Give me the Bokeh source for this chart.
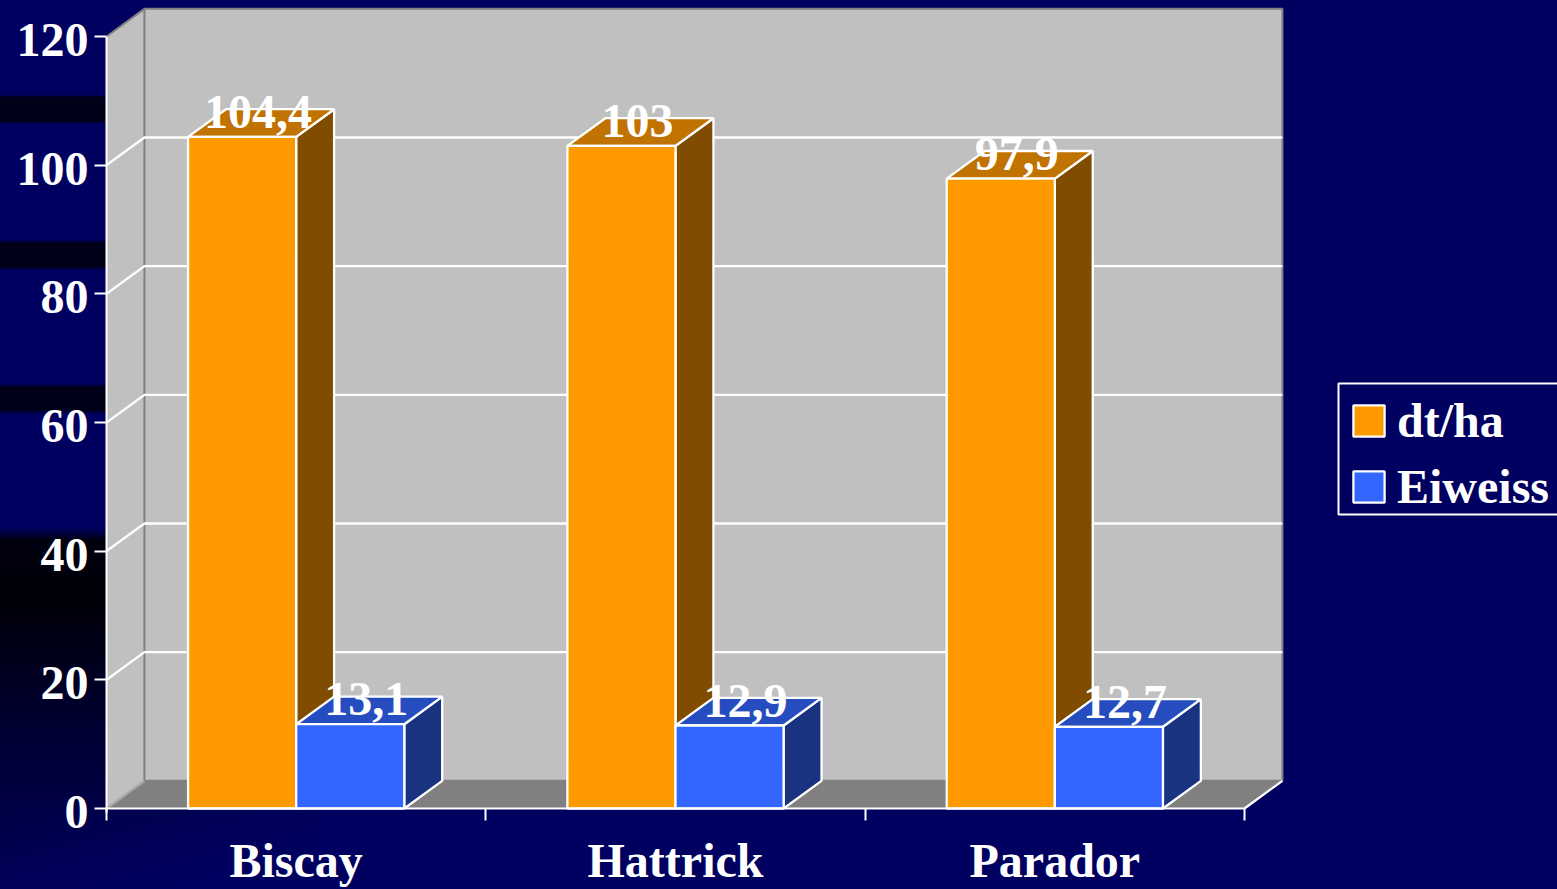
from bokeh.plotting import figure
from bokeh.embed import file_html
from bokeh.resources import INLINE
from bokeh.core.properties import value
from bokeh.models import FixedTicker, Legend, LegendItem, ColumnDataSource, Range1d

categories = ["Biscay", "Hattrick", "Parador"]
dt_ha = [104.4, 103, 97.9]
eiweiss = [13.1, 12.9, 12.7]
dt_labels = ["104,4", "103", "97,9"]
eiweiss_labels = ["13,1", "12,9", "12,7"]
y_ticks = [0, 20, 40, 60, 80, 100, 120]
grid_values = [20, 40, 60, 80, 100]

NAVY = "#000060"
FONT = "Liberation Serif"
DX, DY = 0.1, 4.3      # 3D depth in data units
BAR_W = 0.285
PX_X = 379.33          # pixels per category
PX_Y = 6.4333          # pixels per value unit
LABEL_SHIFT = 3.5 / PX_Y

W, H = 1557, 889
FRAME_W, FRAME_H = 1451, 812
y0 = -4 / PX_Y
p = figure(width=W, height=H, output_backend="svg", toolbar_location=None,
           x_range=Range1d(0, FRAME_W / PX_X), y_range=Range1d(y0, y0 + FRAME_H / PX_Y),
           frame_width=FRAME_W, frame_height=FRAME_H,
           min_border_left=106, min_border_bottom=77, min_border_top=0, min_border_right=0,
           outline_line_color=None, background_fill_alpha=0, border_fill_alpha=0,
           background_fill_color=NAVY, border_fill_color=NAVY)
p.grid.visible = False

n = len(categories)
LW = 2.3
# walls and floor
p.patch([0, DX, DX, 0], [0, DY, 120 + DY, 120], fill_color="#c0c0c0", line_color=None)
p.patch([DX, n + DX, n + DX, DX], [DY, DY, 120 + DY, 120 + DY], fill_color="#c0c0c0",
        line_color="#808080", line_width=2)
p.line([0, DX], [120, 120 + DY], line_color="#808080", line_width=2)
p.patch([0, DX, n + DX, n], [0, DY, DY, 0], fill_color="#808080", line_color=None)
p.line([n, n + DX], [0, DY], line_color="#ffffff", line_width=LW)
p.line([0, DX], [0, DY], line_color="#a8a8a8", line_width=LW)
# gridlines
p.multi_line([[0, DX, n + DX] for _ in grid_values],
             [[v, v + DY, v + DY] for v in grid_values], line_color="#ffffff", line_width=LW)

def bars(vals, lefts, front, side, top):
    rights = [l + BAR_W for l in lefts]
    p.patches([[r, r + DX, r + DX, r] for r in rights],
              [[0, DY, v + DY, v] for v in vals],
              fill_color=side, line_color="#ffffff", line_width=LW)
    p.patches([[l, r, r + DX, l + DX] for l, r in zip(lefts, rights)],
              [[v, v, v + DY, v + DY] for v in vals],
              fill_color=top, line_color="#ffffff", line_width=LW)
    src = ColumnDataSource(dict(x=[l + BAR_W / 2 for l in lefts], top=vals))
    return p.vbar(x="x", top="top", bottom=0, width=BAR_W, source=src,
                  fill_color=front, line_color="#ffffff", line_width=LW)

orange_left = [0.5 - BAR_W + i for i in range(n)]
blue_left = [0.5 + i for i in range(n)]
r1 = bars(dt_ha, orange_left, "#ff9900", "#804d00", "#c07300")
r2 = bars(eiweiss, blue_left, "#3366ff", "#1a3380", "#264dbf")

# x axis line sits at value 0, inside the frame
p.line([0, n], [0, 0], line_color="#ffffff", line_width=2)

def labels(lefts, vals, texts):
    src = ColumnDataSource(dict(x=[l + BAR_W / 2 for l in lefts], y=vals, t=texts))
    p.text(x="x", y="y", text="t", source=src, x_offset=16, y_offset=-25,
           text_align="center", text_baseline="alphabetic", text_color="#ffffff",
           text_font=value(FONT), text_font_style="bold", text_font_size="48px")

labels(orange_left, dt_ha, dt_labels)
labels(blue_left, eiweiss, eiweiss_labels)

# legend box (extends past the right page edge, as in the reference)
def px_x(px):
    return (px - 106) / PX_X
def px_y(py):
    return (808 - py) / PX_Y
p.quad(left=[px_x(1338)], right=[px_x(1600)], top=[px_y(383)], bottom=[px_y(514)],
       fill_color=NAVY, line_color="#ffffff", line_width=2)

# axes
ya = p.yaxis[0]
label_ticks = [round(v - LABEL_SHIFT, 4) for v in y_ticks]
ya.ticker = FixedTicker(ticks=label_ticks, minor_ticks=y_ticks)
ya.major_label_overrides = {t: str(v) for t, v in zip(label_ticks, y_ticks)}
ya.bounds = (y0, 120)
ya.major_label_text_font = FONT
ya.major_label_text_font_style = "bold"
ya.major_label_text_font_size = "48px"
ya.major_label_text_color = "#ffffff"
ya.major_tick_in = 0
ya.major_tick_out = 0
ya.major_tick_line_color = None
ya.minor_tick_in = 0
ya.minor_tick_out = 12
ya.minor_tick_line_color = "#ffffff"
ya.minor_tick_line_width = 2
ya.axis_line_color = "#ffffff"
ya.axis_line_width = 2
ya.major_label_standoff = 6

xa = p.xaxis[0]
xa.ticker = FixedTicker(ticks=[i + 0.5 for i in range(n)], minor_ticks=list(range(n + 1)))
xa.major_label_overrides = {i + 0.5: c for i, c in enumerate(categories)}
xa.bounds = (0, n)
xa.major_label_text_font = FONT
xa.major_label_text_font_style = "bold"
xa.major_label_text_font_size = "48px"
xa.major_label_text_color = "#ffffff"
xa.major_tick_line_color = None
xa.major_tick_in = 0
xa.major_tick_out = 0
xa.minor_tick_in = 4
xa.minor_tick_out = 8
xa.minor_tick_line_color = "#ffffff"
xa.minor_tick_line_width = 2
xa.axis_line_color = None
xa.major_label_standoff = 13

legend = Legend(items=[LegendItem(label="dt/ha", renderers=[r1]),
                       LegendItem(label="Eiweiss", renderers=[r2])],
                location=(1349 - 106, 812 - 514), orientation="vertical",
                background_fill_alpha=0, border_line_color=None,
                glyph_width=39, glyph_height=39, label_standoff=9,
                label_text_font=FONT, label_text_font_style="bold",
                label_text_font_size="48px", label_text_color="#ffffff",
                label_height=31, spacing=11, padding=0, margin=0)
p.add_layout(legend)

dark = "#000018"
column = (f"linear-gradient(to bottom, {NAVY} 0, {NAVY} 95px, {dark} 97px, {dark} 121px, {NAVY} 124px, "
          f"{NAVY} 240px, {dark} 243px, {dark} 267px, {NAVY} 270px, "
          f"{NAVY} 384px, {dark} 387px, {dark} 410px, {NAVY} 414px, "
          f"{NAVY} 528px, #000010 540px, #000008 600px, #000030 720px, #000044 808px)")
corner = "linear-gradient(to bottom right, #000044 0, #000058 45%, #000060 75%)"
css = (f"<style>html,body{{background:{column} 0 0/106px 808px no-repeat,"
       f"{corner} 0 808px/320px 81px no-repeat,{NAVY};overflow:hidden}}</style>")
html = file_html(p, INLINE).replace("</head>", css + "</head>", 1)
open("out.html", "w").write(html)
